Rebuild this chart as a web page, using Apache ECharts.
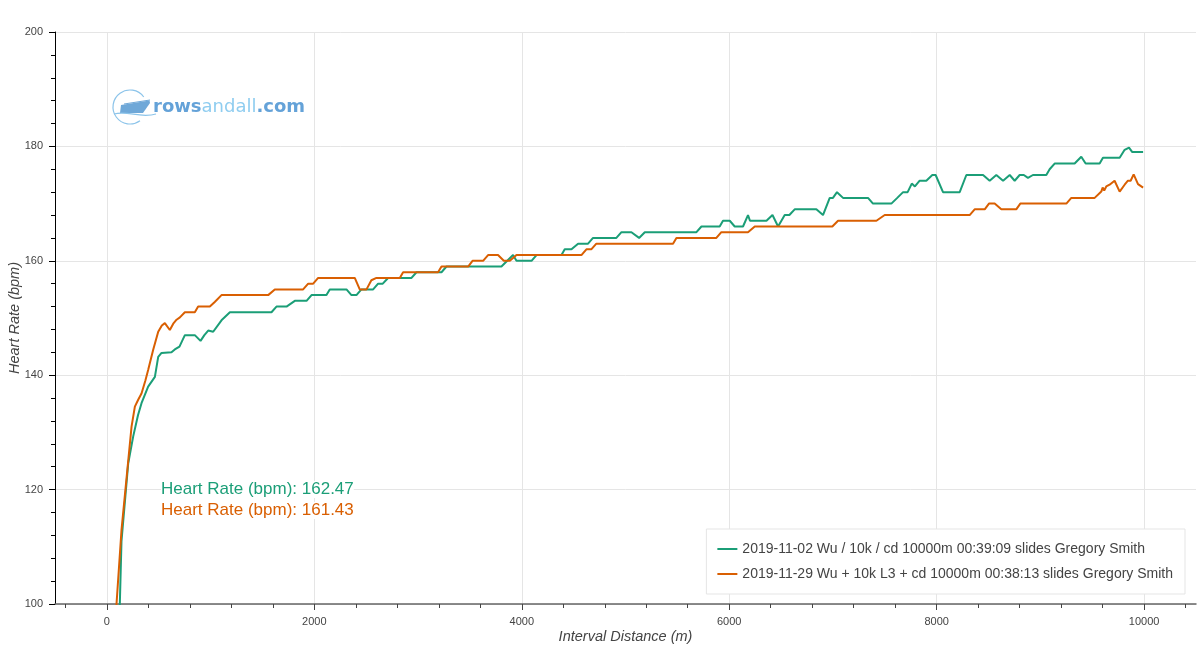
<!DOCTYPE html>
<html>
<head>
<meta charset="utf-8">
<script src="https://cdn.jsdelivr.net/npm/echarts@6/dist/echarts.min.js"></script>
<style>html,body{margin:0;padding:0;background:#fff}#c{width:1199px;height:652px}</style>
</head>
<body>
<div id="c"></div>
<script>
// ---- data ----
const seriesNames = [
  '2019-11-02 Wu / 10k / cd 10000m 00:39:09 slides Gregory Smith',
  '2019-11-29 Wu + 10k L3 + cd 10000m 00:38:13 slides Gregory Smith'
];
const greenDist = [105,125,141,206,254,300,334,398,463,495,527,623,655,700,752,848,903,940,977,1025,1105,1186,1587,1635,1732,1812,1925,1973,2117,2149,2310,2358,2406,2454,2567,2615,2660,2711,2937,2985,3226,3274,3804,3916,3949,4094,4142,4383,4414,4479,4543,4639,4687,4912,4961,5057,5131,5186,5684,5732,5908,5940,6005,6053,6133,6181,6200,6359,6417,6471,6535,6580,6631,6840,6904,6969,7000,7039,7097,7338,7386,7563,7620,7676,7720,7760,7790,7836,7900,7958,7990,8061,8222,8286,8447,8511,8575,8640,8704,8752,8800,8840,8880,8928,9057,9089,9137,9330,9394,9436,9571,9603,9764,9812,9854,9886,9990];
const greenHR   = [85,100,111,124.6,129.3,133,135.1,138,139.7,143.2,143.9,144,144.5,145,147,147,146,147,147.8,147.6,149.6,151,151,152,152,153,153,154,154,155,155,154,154,155,155,156,156,157,157,158,158,159,159,161,160,160,161,161,162,162,163,163,164,164,165,165,164,165,165,166,166,167,167,166,166,168,167,167,168,166,168,168,169,169,168,171,171,172,171,171,170,170,171,172,172,173.5,173,174,174,175,175,172,172,175,175,174,175,174,175,174,175,175,174.5,175,175,176,177,177,178.2,177,177,178,178,179.4,179.8,179,179];
const orangeDist = [80,93,141,238,270,302,334,370,398,446,495,530,559,607,640,672,704,752,848,880,993,1040,1105,1555,1619,1892,1941,1989,2037,2390,2438,2503,2550,2599,2824,2856,3193,3226,3483,3525,3627,3675,3771,3827,3885,3949,4575,4623,4670,4719,5458,5491,5876,5924,6181,6246,6994,7049,7419,7499,8318,8366,8463,8504,8559,8623,8767,8806,9250,9298,9523,9587,9600,9615,9635,9667,9715,9764,9812,9844,9870,9899,9941,9990];
const orangeHR   = [88,100,112.9,131,134.5,135.7,136.8,139,140.9,144.4,147.6,148.7,149.1,147.9,149,149.7,150.1,151,151,152,152,152.8,154,154,155,155,156,156,157,157,155,155,156.6,157,157,158,158,159,159,160,160,161,161,160,160,161,161,162,162,163,163,164,164,165,165,166,166,167,167,168,168,169,169,170,170,169,169,170,170,171,171,172.1,172.8,172.3,173,173.3,174,172.1,173.3,174,174,175.1,173.4,172.8];
const averages = ['Heart Rate (bpm): 162.47', 'Heart Rate (bpm): 161.43'];
const xMajorTicks = [0,2000,4000,6000,8000,10000];
const xMinorTicks = [-400,0,400,800,1200,1600,2000,2400,2800,3200,3600,4000,4400,4800,5200,5600,6000,6400,6800,7200,7600,8000,8400,8800,9200,9600,10000,10400];
const colors = ['#1b9e77', '#d95f02'];

function zip(a, b) { return a.map((v, i) => [v, b[i]]); }

const chart = echarts.init(document.getElementById('c'), null, {renderer: 'canvas'});
const font = 'Liberation Sans, Helvetica, Arial, sans-serif';

chart.setOption({
  animation: false,
  backgroundColor: '#fff',
  textStyle: {fontFamily: font},
  grid: {left: 55, top: 32, right: 3, bottom: 48, containLabel: false, outerBoundsMode: 'none'},
  xAxis: [{
    type: 'value', min: -500, max: 10500,
    name: 'Interval Distance (m)', nameLocation: 'middle', nameGap: 25, nameMoveOverlap: false,
    nameTextStyle: {fontStyle: 'italic', fontSize: 14.5, color: '#444', fontFamily: font},
    axisLine: {show: true, onZero: false, lineStyle: {color: '#666', width: 1.5}},
    axisTick: {show: true, length: 6, customValues: xMajorTicks, lineStyle: {color: '#444'}},
    axisLabel: {customValues: xMajorTicks, fontSize: 11, color: '#444', margin: 12, fontFamily: font,
                formatter: v => String(v)},
    splitLine: {show: true, lineStyle: {color: '#e5e5e5', width: 1}}
  }, {
    type: 'value', min: -500, max: 10500, position: 'bottom',
    axisLine: {show: false},
    axisTick: {show: true, length: 4, customValues: xMinorTicks, lineStyle: {color: '#444'}},
    axisLabel: {show: false},
    splitLine: {show: false}
  }],
  yAxis: {
    type: 'value', min: 100, max: 200, interval: 20,
    name: 'Heart Rate (bpm)', nameLocation: 'middle', nameGap: 33, nameMoveOverlap: false,
    nameTextStyle: {fontStyle: 'italic', fontSize: 14.5, color: '#444', fontFamily: font},
    axisLine: {show: true, onZero: false, lineStyle: {color: '#000', width: 1}},
    axisTick: {show: true, length: 6, lineStyle: {color: '#000'}},
    minorTick: {show: true, splitNumber: 5, length: 4, lineStyle: {color: '#000'}},
    axisLabel: {fontSize: 11, color: '#444', margin: 12, fontFamily: font},
    splitLine: {show: true, lineStyle: {color: '#e5e5e5', width: 1}}
  },
  legend: {
    orient: 'vertical', right: 14, bottom: 58,
    padding: [12, 12, 12, 11], itemGap: 9,
    itemWidth: 20, itemHeight: 2, icon: 'rect',
    backgroundColor: '#fff', borderColor: '#e5e5e5', borderWidth: 1, borderRadius: 0,
    textStyle: {fontSize: 14, lineHeight: 16, color: '#444', fontFamily: font},
    data: seriesNames
  },
  series: [{
    name: seriesNames[0], type: 'line', xAxisIndex: 0, symbol: 'none',
    data: zip(greenDist, greenHR), color: colors[0],
    lineStyle: {width: 2, color: colors[0]}
  }, {
    name: seriesNames[1], type: 'line', xAxisIndex: 0, symbol: 'none',
    data: zip(orangeDist, orangeHR), color: colors[1],
    lineStyle: {width: 2, color: colors[1]}
  }],
  graphic: [
    {type: 'text', left: 161, top: 481, z: 10, style: {text: averages[0], fill: colors[0], font: '17px ' + font, backgroundColor: '#fff'}},
    {type: 'text', left: 161, top: 502, z: 10, style: {text: averages[1], fill: colors[1], font: '17px ' + font, backgroundColor: '#fff'}},
    // logo
    {type: 'arc', shape: {cx: 130, cy: 107, r: 17, startAngle: Math.PI * 0.3, endAngle: Math.PI * 1.8},
     style: {stroke: '#8cc4ea', lineWidth: 1.2, fill: null}},
    {type: 'polygon', shape: {points: [[121, 105], [149.5, 100.5], [150, 103], [143, 113], [120, 113]]},
     style: {fill: '#6fa8d8'}},
    {type: 'line', shape: {x1: 124, y1: 104, x2: 150, y2: 100}, style: {stroke: '#6fa8d8', lineWidth: 1}},
    {type: 'bezierCurve', shape: {x1: 114, y1: 114, x2: 156, y2: 114, cpx1: 128, cpy1: 110, cpx2: 140, cpy2: 119},
     style: {stroke: '#8cc4ea', lineWidth: 1.2, fill: null}},
    {type: 'text', left: 153, top: 98, style: {
      text: '{a|rows}{b|andall}{a|.com}',
      rich: {
        a: {fill: '#64a2d8', font: 'bold 18px "DejaVu Sans", sans-serif'},
        b: {fill: '#8fcdf0', font: '18px "DejaVu Sans", sans-serif'}
      }
    }}
  ]
});
</script>
</body>
</html>
